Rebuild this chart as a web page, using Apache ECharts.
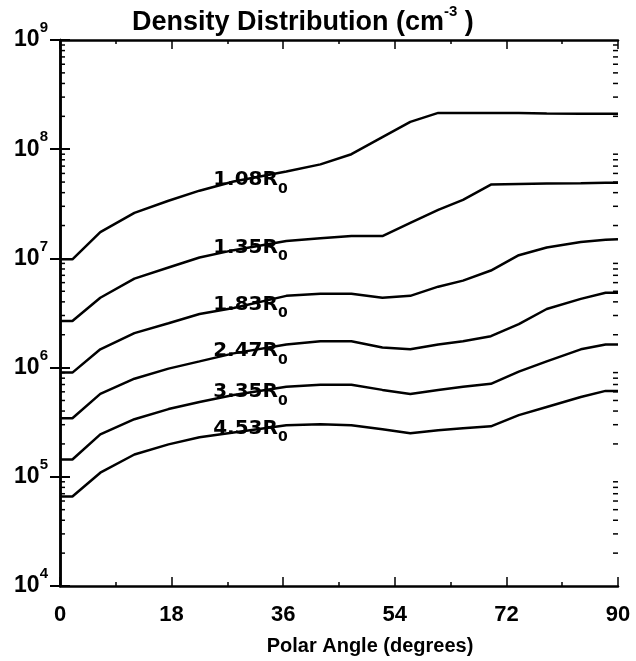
<!DOCTYPE html>
<html>
<head>
<meta charset="utf-8">
<script src="https://cdn.jsdelivr.net/npm/echarts@6/dist/echarts.min.js"></script>
<style>
html,body{margin:0;padding:0;background:#fff;}
#chart{width:636px;height:661px;}
</style>
</head>
<body>
<div id="chart"></div>
<script>
// polar angle (degrees) where the curves were read
var angles = [0, 2, 6.5, 12, 17.5, 22.5, 28, 36.5, 42, 47, 52, 56.5, 61, 65, 69.5, 74, 78.5, 84, 88, 90];

// density (cm^-3) for each radius
var r108 = [9.8e6, 9.8e6, 1.74e7, 2.61e7, 3.37e7, 4.17e7, 5.06e7, 6.25e7, 7.26e7, 9.0e7, 1.29e8, 1.78e8, 2.15e8, 2.15e8, 2.15e8, 2.14e8, 2.12e8, 2.11e8, 2.11e8, 2.11e8];
var r135 = [2.67e6, 2.67e6, 4.36e6, 6.53e6, 8.26e6, 1.02e7, 1.19e7, 1.44e7, 1.53e7, 1.60e7, 1.60e7, 2.11e7, 2.78e7, 3.44e7, 4.74e7, 4.79e7, 4.84e7, 4.89e7, 4.94e7, 4.94e7];
var r183 = [9.0e5, 9.0e5, 1.47e6, 2.07e6, 2.55e6, 3.10e6, 3.52e6, 4.54e6, 4.74e6, 4.74e6, 4.36e6, 4.54e6, 5.51e6, 6.26e6, 7.74e6, 1.07e7, 1.26e7, 1.41e7, 1.48e7, 1.50e7];
var r247 = [3.44e5, 3.44e5, 5.74e5, 7.91e5, 9.79e5, 1.14e6, 1.35e6, 1.63e6, 1.74e6, 1.74e6, 1.53e6, 1.47e6, 1.63e6, 1.74e6, 1.94e6, 2.50e6, 3.44e6, 4.26e6, 4.85e6, 4.85e6];
var r335 = [1.44e5, 1.44e5, 2.45e5, 3.37e5, 4.17e5, 4.84e5, 5.62e5, 6.67e5, 6.96e5, 6.96e5, 6.25e5, 5.74e5, 6.25e5, 6.67e5, 7.11e5, 9.18e5, 1.14e6, 1.47e6, 1.63e6, 1.63e6];
var r453 = [6.6e4, 6.6e4, 1.09e5, 1.60e5, 1.98e5, 2.30e5, 2.55e5, 2.96e5, 3.03e5, 2.96e5, 2.72e5, 2.50e5, 2.67e5, 2.78e5, 2.90e5, 3.67e5, 4.36e5, 5.38e5, 6.12e5, 6.12e5];

var curves = [r108, r135, r183, r247, r335, r453];
var curveNames = ['1.08', '1.35', '1.83', '2.47', '3.35', '4.53'];
var labelAngle = 24.7;

var xTicks = [0, 18, 36, 54, 72, 90];

// minor log ticks 2..9 x 10^k
var minorTicks = [];
for (var k = 4; k < 9; k++) {
    for (var m = 2; m < 10; m++) {
        minorTicks.push(m * Math.pow(10, k));
    }
}

// value on a curve at angle a (log interpolation), used to park the labels
function valueAt(vals, a) {
    for (var i = 0; i < angles.length - 1; i++) {
        if (a >= angles[i] && a <= angles[i + 1]) {
            var t = (a - angles[i]) / (angles[i + 1] - angles[i]);
            var l = Math.log10(vals[i]) * (1 - t) + Math.log10(vals[i + 1]) * t;
            return Math.pow(10, l);
        }
    }
    return vals[vals.length - 1];
}

var chart = echarts.init(document.getElementById('chart'));

var black = '#000';
var series = [];
for (var c = 0; c < curves.length; c++) {
    var vals = curves[c];
    series.push({
        name: curveNames[c],
        type: 'line',
        xAxisIndex: 0,
        yAxisIndex: 0,
        data: angles.map(function (a, i) { return [a, vals[i]]; }),
        showSymbol: false,
        lineStyle: {color: black, width: 2.5},
        z: 3,
        markPoint: {
            symbol: 'circle',
            symbolSize: 0,
            silent: true,
            data: [{coord: [labelAngle, valueAt(vals, labelAngle)]}],
            label: {
                show: true,
                position: [0, 0],
                align: 'left',
                verticalAlign: 'middle',
                offset: [0, -7],
                formatter: '{n|' + curveNames[c] + 'R}{s|0}',
                rich: {
                    n: {fontSize: 20, fontWeight: 'bold', fontFamily: 'DejaVu Sans', color: black},
                    s: {fontSize: 14, fontWeight: 'bold', fontFamily: 'DejaVu Sans', color: black, padding: [18, 0, 0, 0]}
                }
            }
        }
    });
}

series.push({
    type: 'custom',
    xAxisIndex: 0,
    yAxisIndex: 0,
    silent: true,
    z: 4,
    data: minorTicks.map(function (v) { return [0, v]; }),
    encode: {x: 0, y: 1},
    renderItem: function (params, api) {
        var v = api.value(1);
        var pl = api.coord([0, v]);
        var pr = api.coord([90, v]);
        return {
            type: 'group',
            children: [
                {type: 'line', shape: {x1: pl[0], y1: pl[1], x2: pl[0] + 5, y2: pl[1]}, style: {stroke: black, lineWidth: 1.5}},
                {type: 'line', shape: {x1: pr[0] - 5, y1: pr[1], x2: pr[0], y2: pr[1]}, style: {stroke: black, lineWidth: 1.5}}
            ]
        };
    }
});

var xBase = {
    type: 'value',
    min: 0,
    max: 90,
    interval: 18,
    axisLine: {show: true, lineStyle: {color: black, width: 2.5}},
    axisTick: {show: true, inside: true, length: 9, lineStyle: {color: black, width: 1.5}},
    minorTick: {show: true, splitNumber: 2, length: 4, lineStyle: {color: black, width: 1.5}},
    splitLine: {show: false}
};

var yBase = {
    type: 'log',
    logBase: 10,
    min: 1e4,
    max: 1e9,
    axisLine: {show: true, lineStyle: {color: black, width: 2.5}},
    axisTick: {show: true, inside: true, length: 10, lineStyle: {color: black, width: 2}},
    splitLine: {show: false}
};

var option = {
    animation: false,
    backgroundColor: '#fff',
    title: {
        text: '{t|Density Distribution (cm}{s|-3}{t| )}',
        left: 132,
        top: 4,
        padding: 0,
        textStyle: {
            rich: {
                t: {fontSize: 27, fontWeight: 'bold', fontFamily: 'Liberation Sans', color: black, lineHeight: 30},
                s: {fontSize: 15, fontWeight: 'bold', fontFamily: 'Liberation Sans', color: black, padding: [0, 0, 22, 0]}
            }
        }
    },
    grid: {left: 60, right: 18, top: 40, bottom: 75},
    xAxis: [
        Object.assign({}, xBase, {
            position: 'bottom',
            axisLabel: {
                show: true, fontSize: 22, fontWeight: 'bold', fontFamily: 'Liberation Sans', color: black, margin: 18,
                showMinLabel: true, showMaxLabel: true,
                formatter: function (v) { return xTicks.indexOf(v) >= 0 ? String(v) : ''; }
            },
            name: 'Polar Angle (degrees)',
            nameLocation: 'middle',
            nameGap: 50,
            nameTextStyle: {fontSize: 20, fontWeight: 'bold', fontFamily: 'Liberation Sans', color: black, padding: [0, 0, 0, 62]}
        }),
        Object.assign({}, xBase, {position: 'top', axisLabel: {show: false}})
    ],
    yAxis: [
        Object.assign({}, yBase, {
            position: 'left',
            axisLabel: {
                show: true, margin: 12, showMinLabel: true, showMaxLabel: true,
                formatter: function (v) {
                    return '{b|10}{s|' + Math.round(Math.log10(v)) + '}';
                },
                rich: {
                    b: {fontSize: 23, fontWeight: 'bold', fontFamily: 'Liberation Sans', color: black},
                    s: {fontSize: 15, fontWeight: 'bold', fontFamily: 'Liberation Sans', color: black, padding: [0, 0, 24, 0]}
                }
            }
        }),
        Object.assign({}, yBase, {position: 'right', axisLabel: {show: false}})
    ],
    series: series
};

chart.setOption(option);
</script>
</body>
</html>
